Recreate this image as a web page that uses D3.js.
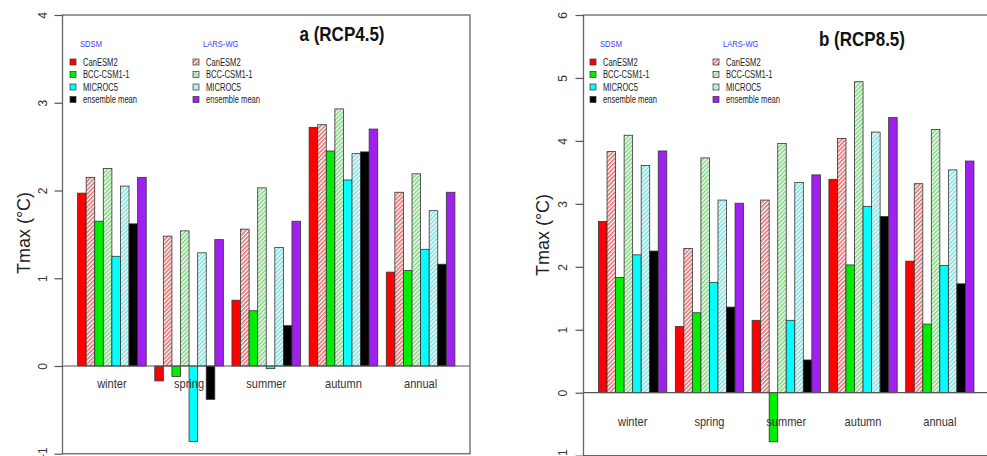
<!DOCTYPE html>
<html>
<head>
<meta charset="utf-8">
<script src="https://cdn.jsdelivr.net/npm/d3@7"></script>
<style>
  body { margin: 0; background: #fff; }
  svg { display: block; font-family: "Liberation Sans", Arial, sans-serif; }
</style>
</head>
<body>
<svg id="chart" width="987" height="456"></svg>
<script>
// seasons on the x axis
const seasons = ["winter", "spring", "summer", "autumn", "annual"];
// bar order inside each season group: SDSM and LARS-WG alternate
const seriesKeys = ["sdsmCan", "larsCan", "sdsmBcc", "larsBcc", "sdsmMic", "larsMic", "sdsmEns", "larsEns"];
const modelNames = ["CanESM2", "BCC-CSM1-1", "MICROC5", "ensemble mean"];

// Tmax change, RCP4.5 (one array per series, in season order)
const rcp45_sdsmCan = [1.97, -0.17, 0.75, 2.72, 1.07];
const rcp45_larsCan = [2.15, 1.48, 1.56, 2.75, 1.98];
const rcp45_sdsmBcc = [1.65, -0.12, 0.63, 2.45, 1.09];
const rcp45_larsBcc = [2.25, 1.54, 2.03, 2.93, 2.19];
const rcp45_sdsmMic = [1.25, -0.86, -0.03, 2.12, 1.33];
const rcp45_larsMic = [2.05, 1.29, 1.35, 2.42, 1.77];
const rcp45_sdsmEns = [1.62, -0.38, 0.46, 2.44, 1.16];
const rcp45_larsEns = [2.15, 1.44, 1.65, 2.70, 1.98];

// Tmax change, RCP8.5
const rcp85_sdsmCan = [2.72, 1.05, 1.15, 3.39, 2.09];
const rcp85_larsCan = [3.83, 2.29, 3.06, 4.04, 3.32];
const rcp85_sdsmBcc = [1.83, 1.27, -0.78, 2.03, 1.09];
const rcp85_larsBcc = [4.09, 3.73, 3.96, 4.94, 4.18];
const rcp85_sdsmMic = [2.19, 1.75, 1.15, 2.96, 2.02];
const rcp85_larsMic = [3.61, 3.06, 3.34, 4.14, 3.54];
const rcp85_sdsmEns = [2.25, 1.36, 0.52, 2.80, 1.73];
const rcp85_larsEns = [3.84, 3.01, 3.46, 4.37, 3.68];

const yTicksA = [-1, 0, 1, 2, 3, 4];
const yTicksB = [-1, 0, 1, 2, 3, 4, 5, 6];

const rcp45 = {sdsmCan: rcp45_sdsmCan, larsCan: rcp45_larsCan, sdsmBcc: rcp45_sdsmBcc, larsBcc: rcp45_larsBcc,
               sdsmMic: rcp45_sdsmMic, larsMic: rcp45_larsMic, sdsmEns: rcp45_sdsmEns, larsEns: rcp45_larsEns};
const rcp85 = {sdsmCan: rcp85_sdsmCan, larsCan: rcp85_larsCan, sdsmBcc: rcp85_sdsmBcc, larsBcc: rcp85_larsBcc,
               sdsmMic: rcp85_sdsmMic, larsMic: rcp85_larsMic, sdsmEns: rcp85_sdsmEns, larsEns: rcp85_larsEns};

// solid fills for SDSM, hatch patterns for LARS-WG
const fills = {
  sdsmCan: "#ff0000", larsCan: "url(#hatch-red)",
  sdsmBcc: "#00ee00", larsBcc: "url(#hatch-green)",
  sdsmMic: "#00ffff", larsMic: "url(#hatch-cyan)",
  sdsmEns: "#000000", larsEns: "#a020f0"
};

const svg = d3.select("#chart");

// the source uses a condensed font; squeeze the text horizontally
function condense(sel, factor) {
  sel.each(function() {
    const w = this.getComputedTextLength();
    d3.select(this).attr("textLength", w * factor).attr("lengthAdjust", "spacingAndGlyphs");
  });
}

// hatching (R density/angle look)
const defs = svg.append("defs");
[["hatch-red", "#e07070"], ["hatch-green", "#7fd67f"], ["hatch-cyan", "#7fdede"]]
  .forEach(([id, line]) => {
    const p = defs.append("pattern")
      .attr("id", id)
      .attr("patternUnits", "userSpaceOnUse")
      .attr("width", 3).attr("height", 3)
      .attr("patternTransform", "rotate(45)");
    p.append("rect").attr("width", 3).attr("height", 3).attr("fill", "#fff");
    p.append("rect").attr("width", 1.6).attr("height", 3).attr("fill", line);
  });

function drawPanel(opt) {
  const g = svg.append("g");

  const y = d3.scaleLinear().domain(opt.yDomain).range([opt.bottom, opt.top]);
  // R barplot: bars of width 1, one bar of space between groups, 4% outer padding
  const x0 = d3.scaleBand().domain(seasons).range([opt.left, opt.right])
    .paddingInner(1 / 9).paddingOuter(1.76 / 9);
  const x1 = d3.scaleBand().domain(seriesKeys).range([0, x0.bandwidth()]);

  // bars
  seasons.forEach((s, i) => {
    g.selectAll(null)
      .data(seriesKeys)
      .enter()
      .append("rect")
      .attr("x", k => x0(s) + x1(k))
      .attr("width", x1.bandwidth())
      .attr("y", k => y(Math.max(0, opt.data[k][i])))
      .attr("height", k => Math.abs(y(opt.data[k][i]) - y(0)))
      .attr("fill", k => fills[k])
      .attr("stroke", "#333")
      .attr("stroke-width", 0.8);
  });

  // zero line
  g.append("line")
    .attr("x1", opt.left).attr("x2", opt.right)
    .attr("y1", y(0)).attr("y2", y(0))
    .attr("stroke", "#555").attr("stroke-width", 1.2);

  // box
  g.append("rect")
    .attr("x", opt.left).attr("y", opt.top)
    .attr("width", opt.right - opt.left).attr("height", opt.bottom - opt.top)
    .attr("fill", "none").attr("stroke", "#666").attr("stroke-width", 1.3);

  // y axis, labels parallel to axis like R
  const axis = g.append("g")
    .attr("transform", `translate(${opt.left},0)`)
    .call(d3.axisLeft(y).tickValues(opt.ticks).tickSize(8).tickFormat(d3.format("d")));
  axis.select(".domain").remove();
  axis.selectAll(".tick line").attr("stroke", "#555").attr("stroke-width", 1.2);
  axis.selectAll(".tick text")
    .attr("x", 0).attr("dy", 0)
    .attr("transform", `translate(${opt.tickLabelX - opt.left},0) rotate(-90)`)
    .attr("text-anchor", "middle")
    .attr("dominant-baseline", "central")
    .attr("font-size", 12)
    .attr("fill", "#333");

  // season names just under the zero line
  g.selectAll(null)
    .data(seasons)
    .enter()
    .append("text")
    .attr("x", s => x0(s) + x0.bandwidth() / 2)
    .attr("y", y(opt.labelAt))
    .attr("text-anchor", "middle")
    .attr("dominant-baseline", "central")
    .attr("font-size", 13)
    .attr("fill", "#333")
    .text(s => s)
    .call(condense, 0.85);

  // y title
  g.append("text")
    .attr("transform", `translate(${opt.yTitleX},${opt.yTitleY}) rotate(-90)`)
    .attr("text-anchor", "middle")
    .attr("dominant-baseline", "central")
    .attr("font-size", 18)
    .attr("fill", "#222")
    .text("Tmax (°C)");

  // panel title
  g.append("text")
    .attr("x", opt.titleX).attr("y", opt.titleY)
    .attr("text-anchor", "middle")
    .attr("dominant-baseline", "central")
    .attr("font-size", 20)
    .attr("font-weight", "bold")
    .attr("fill", "#111")
    .text(opt.title)
    .call(condense, 0.85);

  // legend: two columns, SDSM and LARS-WG
  const cols = [
    {head: "SDSM", x: opt.legX, keys: ["sdsmCan", "sdsmBcc", "sdsmMic", "sdsmEns"]},
    {head: "LARS-WG", x: opt.legX + 123, keys: ["larsCan", "larsBcc", "larsMic", "larsEns"]}
  ];
  cols.forEach(c => {
    g.append("text")
      .attr("x", c.x + 7).attr("y", 43)
      .attr("dominant-baseline", "central")
      .attr("font-size", 9.5)
      .attr("fill", "#3b3bff")
      .text(c.head)
      .call(condense, 0.8);
    c.keys.forEach((k, j) => {
      const cy = 62 + j * 12.5;
      g.append("rect")
        .attr("x", c.x - 3).attr("y", cy - 3)
        .attr("width", 6).attr("height", 6)
        .attr("fill", fills[k])
        .attr("stroke", "#333").attr("stroke-width", 0.7);
      g.append("text")
        .attr("x", c.x + 10).attr("y", cy)
        .attr("dominant-baseline", "central")
        .attr("font-size", 10)
        .attr("fill", "#222")
        .text(modelNames[j])
        .call(condense, 0.76);
    });
  });
}

drawPanel({
  data: rcp45, yDomain: [-1, 4], ticks: yTicksA,
  left: 62.5, right: 470, top: 15, bottom: 453.75,
  tickLabelX: 43, labelAt: -0.2,
  yTitleX: 24, yTitleY: 233,
  title: "a (RCP4.5)", titleX: 342, titleY: 34,
  legX: 73
});

drawPanel({
  data: rcp85, yDomain: [-1, 6], ticks: yTicksB,
  left: 583.5, right: 989, top: 15, bottom: 455.65,
  tickLabelX: 563, labelAt: -0.46,
  yTitleX: 542.5, yTitleY: 235,
  title: "b (RCP8.5)", titleX: 862, titleY: 39,
  legX: 593
});
</script>
</body>
</html>
